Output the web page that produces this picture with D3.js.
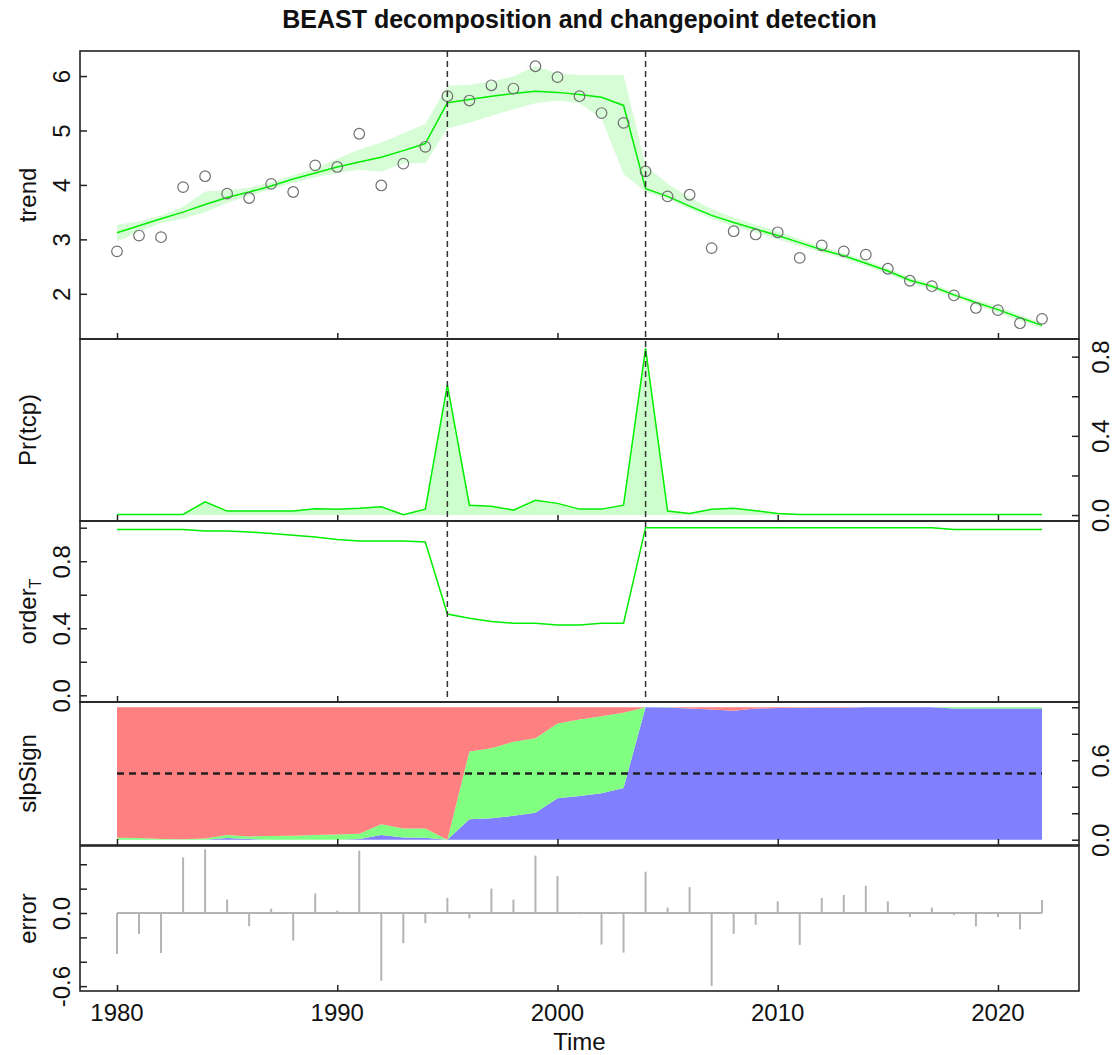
<!DOCTYPE html>
<html>
<head>
<meta charset="utf-8">
<script src="https://cdn.jsdelivr.net/npm/d3@7"></script>
<style>
  body { margin: 0; background: #fff; }
  svg { font-family: "Liberation Sans", Arial, sans-serif; }
</style>
</head>
<body>
<div id="chart"></div>
<script>
// yearly values
const years = d3.range(1980, 2023)
const yearTicks = [1980, 1990, 2000, 2010, 2020]
const changepoints = [1995, 2004]

const observed = [2.78, 3.07, 3.04, 3.96, 4.16, 3.84, 3.76, 4.02, 3.87, 4.36, 4.33, 4.94, 3.99, 4.39, 4.70,
  5.63, 5.55, 5.83, 5.77, 6.18, 5.98, 5.63, 5.32, 5.14, 4.25, 3.79, 3.82, 2.84, 3.15, 3.09, 3.13,
  2.66, 2.89, 2.78, 2.72, 2.46, 2.24, 2.14, 1.97, 1.74, 1.70, 1.46, 1.54]
const trend = [3.12, 3.25, 3.38, 3.50, 3.64, 3.77, 3.87, 3.98, 4.11, 4.22, 4.33, 4.42, 4.51, 4.63, 4.76,
  5.51, 5.57, 5.63, 5.68, 5.72, 5.70, 5.66, 5.61, 5.46, 3.93, 3.79, 3.61, 3.44, 3.31, 3.19, 3.07,
  2.94, 2.81, 2.70, 2.56, 2.42, 2.25, 2.14, 1.98, 1.84, 1.71, 1.56, 1.42]
const trendUpper = [3.27, 3.33, 3.44, 3.60, 3.88, 3.90, 3.95, 4.05, 4.18, 4.30, 4.48, 4.65, 4.78, 4.95, 5.12,
  5.82, 5.84, 5.90, 5.99, 6.18, 6.05, 6.02, 6.02, 6.02, 4.36, 4.02, 3.77, 3.56, 3.40, 3.27, 3.15,
  3.00, 2.86, 2.75, 2.61, 2.47, 2.30, 2.19, 2.03, 1.89, 1.77, 1.61, 1.47]
const trendLower = [2.96, 3.14, 3.30, 3.38, 3.50, 3.67, 3.80, 3.92, 4.04, 4.14, 4.22, 4.28, 4.24, 4.40, 4.40,
  5.03, 5.14, 5.27, 5.39, 5.50, 5.55, 5.50, 5.22, 4.20, 3.87, 3.74, 3.56, 3.38, 3.24, 3.12, 3.00,
  2.88, 2.76, 2.65, 2.51, 2.37, 2.20, 2.09, 1.93, 1.79, 1.65, 1.50, 1.37]

const prTcp = [0.003, 0.003, 0.003, 0.003, 0.067, 0.02, 0.02, 0.02, 0.02, 0.032, 0.029, 0.034, 0.042, 0.002, 0.03,
  0.657, 0.05, 0.045, 0.025, 0.075, 0.059, 0.03, 0.03, 0.05, 0.842, 0.02, 0.008, 0.029, 0.034, 0.022, 0.008,
  0.003, 0.003, 0.003, 0.003, 0.003, 0.003, 0.003, 0.003, 0.003, 0.003, 0.003, 0.003]

const orderT = [0.99, 0.99, 0.99, 0.99, 0.98, 0.98, 0.975, 0.965, 0.955, 0.945, 0.93, 0.92, 0.92, 0.92, 0.915,
  0.485, 0.46, 0.44, 0.43, 0.43, 0.42, 0.42, 0.43, 0.43, 1.0, 1.0, 1.0, 1.0, 1.0, 1.0, 1.0,
  1.0, 1.0, 1.0, 1.0, 1.0, 1.0, 1.0, 0.99, 0.99, 0.99, 0.99, 0.99]

// slope sign probabilities: negative (blue), zero (green), positive (red)
const slpNeg = [0, 0, 0, 0, 0, 0.012, 0.005, 0, 0, 0, 0, 0.005, 0.035, 0.017, 0.015,
  0, 0.155, 0.162, 0.18, 0.204, 0.314, 0.33, 0.35, 0.39, 1.0, 0.998, 0.99, 0.983, 0.973, 0.99, 0.995,
  0.995, 0.997, 0.997, 1.0, 1.0, 1.0, 1.0, 0.99, 0.99, 0.99, 0.99, 0.99]
const slpZero = [0.015, 0.012, 0.006, 0.004, 0.01, 0.023, 0.02, 0.028, 0.03, 0.035, 0.04, 0.04, 0.082, 0.068, 0.07,
  0, 0.511, 0.528, 0.56, 0.562, 0.564, 0.578, 0.583, 0.568, 0, 0.002, 0, 0, 0, 0, 0,
  0.002, 0, 0, 0, 0, 0, 0, 0.01, 0.01, 0.01, 0.01, 0.01]
const slpPos = [0.985, 0.988, 0.994, 0.996, 0.99, 0.965, 0.975, 0.972, 0.97, 0.965, 0.96, 0.955, 0.883, 0.915, 0.915,
  1.0, 0.334, 0.31, 0.26, 0.234, 0.122, 0.092, 0.067, 0.042, 0, 0, 0.01, 0.017, 0.027, 0.01, 0.005,
  0.003, 0.003, 0.003, 0, 0, 0, 0, 0, 0, 0, 0, 0]

const errors = [-0.336, -0.171, -0.328, 0.457, 0.523, 0.11, -0.107, 0.036, -0.226, 0.16, 0.019, 0.512, -0.556, -0.248, -0.083,
  0.124, -0.044, 0.2, 0.11, 0.471, 0.303, -0.01, -0.259, -0.325, 0.339, 0.044, 0.212, -0.598, -0.171, -0.096, 0.096,
  -0.262, 0.124, 0.149, 0.223, 0.096, -0.033, 0.044, -0.017, -0.11, -0.033, -0.135, 0.107]

const W = 1116, H = 1055
const left = 80, right = 1079
const fs = 24

const svg = d3.select('#chart').append('svg')
  .attr('width', W).attr('height', H)

const x = d3.scaleLinear().domain([1978.32, 2023.68]).range([left, right])

// R style labels: plain hyphen for negatives
const fmt1 = d => d.toFixed(1)

const panels = {
  trend: { top: 51, bottom: 339, domain: [1.17, 6.46], side: 'left', title: 'trend',
    ticks: [2, 3, 4, 5, 6], labels: [2, 3, 4, 5, 6], fmt: d => String(d) },
  pr: { top: 339, bottom: 521, domain: [-0.03, 0.889], side: 'right', title: 'Pr(tcp)',
    ticks: [0, 0.2, 0.4, 0.6, 0.8], labels: [0, 0.4, 0.8], fmt: fmt1 },
  order: { top: 521, bottom: 702, domain: [-0.04, 1.04], side: 'left', title: 'order',
    ticks: [0, 0.2, 0.4, 0.6, 0.8, 1.0], labels: [0, 0.4, 0.8], fmt: fmt1 },
  slp: { top: 702, bottom: 845, domain: [-0.04, 1.04], side: 'right', title: 'slpSign',
    ticks: [0, 0.2, 0.4, 0.6, 0.8, 1.0], labels: [0, 0.6], fmt: fmt1 },
  err: { top: 846, bottom: 991, domain: [-0.64, 0.55], side: 'left', title: 'error',
    ticks: [-0.6, -0.4, -0.2, 0, 0.2, 0.4], labels: [-0.6, 0], fmt: fmt1 }
}

Object.values(panels).forEach(p => {
  p.y = d3.scaleLinear().domain(p.domain).range([p.bottom, p.top])
})

const lineGen = (y, vals) => d3.line().x((d, i) => x(years[i])).y((d, i) => y(vals[i]))(years)

// --- trend panel
{
  const y = panels.trend.y
  svg.append('path')
    .attr('d', d3.area().x((d, i) => x(years[i])).y0((d, i) => y(trendLower[i])).y1((d, i) => y(trendUpper[i]))(years))
    .attr('fill', '#d6fdd6')
  svg.append('path').attr('d', lineGen(y, trend))
    .attr('fill', 'none').attr('stroke', '#00ee00').attr('stroke-width', 1.5)
  svg.selectAll('.pt').data(years).enter().append('circle')
    .attr('cx', d => x(d)).attr('cy', (d, i) => y(observed[i])).attr('r', 5.3)
    .attr('fill', 'none').attr('stroke', '#707070').attr('stroke-width', 1.2)
}

// --- Pr(tcp) panel
{
  const y = panels.pr.y
  svg.append('path')
    .attr('d', d3.area().x((d, i) => x(years[i])).y0(y(0)).y1((d, i) => y(prTcp[i]))(years))
    .attr('fill', '#ccffcc')
  svg.append('path').attr('d', lineGen(y, prTcp))
    .attr('fill', 'none').attr('stroke', '#00ee00').attr('stroke-width', 1.5)
}

// --- order panel
{
  const y = panels.order.y
  svg.append('path').attr('d', lineGen(y, orderT))
    .attr('fill', 'none').attr('stroke', '#00ee00').attr('stroke-width', 1.5)
}

// --- slope sign panel (stacked)
{
  const y = panels.slp.y
  const table = years.map((yr, i) => ({ year: yr, neg: slpNeg[i], zero: slpZero[i], pos: slpPos[i] }))
  const stack = d3.stack().keys(['neg', 'zero', 'pos'])(table)
  const colors = { neg: '#8080ff', zero: '#80ff80', pos: '#ff8080' }
  svg.selectAll('.slp').data(stack).enter().append('path')
    .attr('fill', d => colors[d.key])
    .attr('d', d3.area().x(d => x(d.data.year)).y0(d => y(d[0])).y1(d => y(d[1])))
  svg.append('line')
    .attr('x1', x(1980)).attr('x2', x(2022)).attr('y1', y(0.5)).attr('y2', y(0.5))
    .attr('stroke', '#222').attr('stroke-width', 2.4).attr('stroke-dasharray', '7,5')
}

// --- error panel
{
  const y = panels.err.y
  svg.append('line')
    .attr('x1', x(1980)).attr('x2', x(2022)).attr('y1', y(0)).attr('y2', y(0))
    .attr('stroke', '#b4b4b4').attr('stroke-width', 2)
  svg.selectAll('.err').data(years).enter().append('line')
    .attr('x1', d => x(d)).attr('x2', d => x(d))
    .attr('y1', y(0)).attr('y2', (d, i) => y(errors[i]))
    .attr('stroke', '#b4b4b4').attr('stroke-width', 2)
}

// changepoint lines over the first three panels
svg.selectAll('.cp').data(changepoints).enter().append('line')
  .attr('x1', d => x(d)).attr('x2', d => x(d))
  .attr('y1', panels.trend.top).attr('y2', panels.order.bottom)
  .attr('stroke', '#333').attr('stroke-width', 1.5).attr('stroke-dasharray', '6,4')

// axes, frames
Object.values(panels).forEach(p => {
  const isLeft = p.side === 'left'
  const ax = (isLeft ? d3.axisLeft(p.y) : d3.axisRight(p.y))
    .tickValues(p.ticks).tickSizeInner(-7).tickSizeOuter(0)
    .tickFormat(d => p.labels.some(l => Math.abs(l - d) < 1e-9) ? p.fmt(d) : '')
  const g = svg.append('g')
    .attr('transform', `translate(${isLeft ? left : right},0)`)
    .call(ax)
  g.select('.domain').remove()
  g.selectAll('line').attr('stroke', '#222').attr('stroke-width', 1.5)
  g.selectAll('text')
    .attr('x', 0).attr('y', 0).attr('dy', 0)
    .attr('text-anchor', 'middle')
    .attr('transform', `translate(${isLeft ? -10 : 30},0) rotate(-90)`)
    .attr('font-size', fs).attr('fill', '#111')
    .attr('font-family', '"Liberation Sans", Arial, sans-serif')

  const gx = svg.append('g')
    .attr('transform', `translate(0,${p.bottom})`)
    .call(d3.axisTop(x).tickValues(yearTicks).tickSize(6).tickFormat(''))
  gx.select('.domain').remove()
  gx.selectAll('line').attr('stroke', '#222').attr('stroke-width', 1.5)

  svg.append('rect')
    .attr('x', left).attr('y', p.top).attr('width', right - left).attr('height', p.bottom - p.top)
    .attr('fill', 'none').attr('stroke', '#222').attr('stroke-width', 1.6)

  const t = svg.append('text')
    .attr('transform', `translate(36,${(p.top + p.bottom) / 2}) rotate(-90)`)
    .attr('text-anchor', 'middle').attr('font-size', fs).attr('fill', '#111')
    .text(p.title)
  if (p.title === 'order') {
    t.append('tspan').attr('font-size', 16).attr('dy', 5).text('T')
  }
})

// bottom year labels
svg.append('g').selectAll('text').data(yearTicks).enter().append('text')
  .attr('x', d => x(d)).attr('y', 1021)
  .attr('text-anchor', 'middle').attr('font-size', fs).attr('fill', '#111')
  .text(d => d)

svg.append('text')
  .attr('x', (left + right) / 2).attr('y', 1050)
  .attr('text-anchor', 'middle').attr('font-size', fs).attr('fill', '#111')
  .text('Time')

svg.append('text')
  .attr('x', (left + right) / 2).attr('y', 28)
  .attr('text-anchor', 'middle').attr('font-size', 25).attr('font-weight', 'bold').attr('fill', '#111')
  .text('BEAST decomposition and changepoint detection')
</script>
</body>
</html>
